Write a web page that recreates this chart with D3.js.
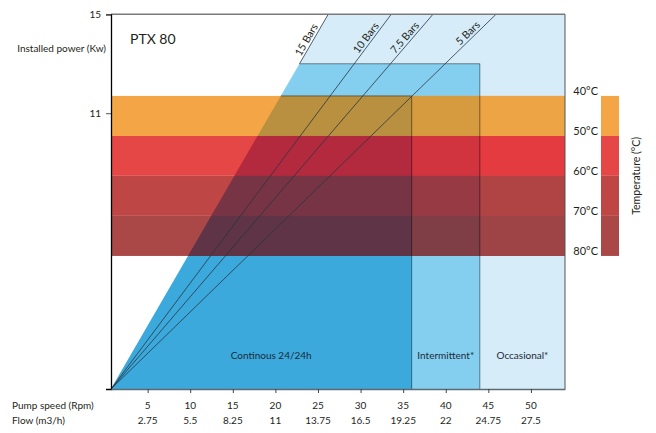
<!DOCTYPE html>
<html>
<head>
<meta charset="utf-8">
<script src="https://cdn.jsdelivr.net/npm/d3@7"></script>
<style>
  body { margin: 0; background: #fff; }
  text { font-family: Lato, "Open Sans", sans-serif; fill: #231f20; }
</style>
</head>
<body>
<div id="chart"></div>
<script>
// ---- data ----
const rpmTicks = [5, 10, 15, 20, 25, 30, 35, 40, 45, 50]
const flowTicks = [2.75, 5.5, 8.25, 11, 13.75, 16.5, 19.25, 22, 24.75, 27.5]
const powerTicks = [11, 15]

const pressureLabels = ["15 Bars", "10 Bars", "7.5 Bars", "5 Bars"]
const pressureRpmAt15 = [26.2, 33.6, 38.5, 45.9]   // rpm where each line hits 15 kW

const zoneNames = ["Continous 24/24h", "Intermittent*", "Occasional*"]
const zoneMaxRpm = [36, 44, 54]
const zoneMaxKw = [11.7, 13, 15]

const tempLabels = ["40°C", "50°C", "60°C", "70°C", "80°C"]
const tempKw = [11.7, 10.08, 8.47, 6.85, 5.23]

// ---- look ----
const W = 656, H = 433
const zoneFill = ["#3ba9dc", "#84cff0", "#d6ecf8"]
// band colours: over white, then as seen over each zone (continuous, intermittent, occasional)
const bandWhite = ["#f4a646", "#e54646", "#be4645", "#aa4747"]
const bandOnZone = [
  ["#b99040", "#b32a3f", "#773444", "#5e3446"],
  ["#d69a3f", "#d1343e", "#973a44", "#7f3e46"],
  ["#eda445", "#e33b40", "#b04344", "#9f4446"]
]

const x = d3.scaleLinear().domain([0.7, 54]).range([111, 565])
const y = d3.scaleLinear().domain([-0.15, 15]).range([389, 14.3])
const x0 = x.domain()[0], y0 = y.domain()[0]

const svg = d3.select("#chart").append("svg")
  .attr("width", W).attr("height", H)

// point on a pressure line at a given power
const lineRpmAt = (rpmTop, kw) => x0 + (rpmTop - x0) * (kw - y0) / (15 - y0)

const zonePoly = (i) => {
  const xl = lineRpmAt(pressureRpmAt15[0], zoneMaxKw[i])
  return [[x0, y0], [xl, zoneMaxKw[i]], [zoneMaxRpm[i], zoneMaxKw[i]], [zoneMaxRpm[i], y0]]
}
const toPath = d3.line().x(d => x(d[0])).y(d => y(d[1]))

const defs = svg.append("defs")
zoneNames.forEach((z, i) => {
  defs.append("clipPath").attr("id", "zone" + i)
    .append("path").attr("d", toPath(zonePoly(i)) + "Z")
})

// zones, widest first
const zoneOrder = [2, 1, 0]
svg.append("g").selectAll("path")
  .data(zoneOrder).enter().append("path")
  .attr("d", i => toPath(zonePoly(i)) + "Z")
  .attr("fill", i => zoneFill[i])

// temperature bands
const bands = tempLabels.slice(0, -1).map((t, i) => ({ top: tempKw[i], bottom: tempKw[i + 1], i: i }))

const drawBands = (g, colors) => {
  g.selectAll("rect").data(bands).enter().append("rect")
    .attr("x", x(x0))
    .attr("width", x(x.domain()[1]) - x(x0))
    .attr("y", d => y(d.top))
    .attr("height", d => y(d.bottom) - y(d.top))
    .attr("fill", d => colors[d.i])
}
drawBands(svg.append("g"), bandWhite)
zoneOrder.forEach(i => {
  drawBands(svg.append("g").attr("clip-path", "url(#zone" + i + ")"), bandOnZone[i])
})

// zone outlines (top + right edge)
svg.append("g").selectAll("path")
  .data([1, 0]).enter().append("path")
  .attr("d", i => toPath(zonePoly(i).slice(1)))
  .attr("fill", "none")
  .attr("stroke", "#000")
  .attr("stroke-opacity", 0.45)
  .attr("stroke-width", 1)

// pressure lines
pressureLabels.forEach((lbl, i) => {
  const fromKw = i === 0 ? zoneMaxKw[1] : y0
  const p1 = [x(lineRpmAt(pressureRpmAt15[i], fromKw)), y(fromKw)]
  const p2 = [x(pressureRpmAt15[i]), y(15)]
  svg.append("line")
    .attr("x1", p1[0]).attr("y1", p1[1]).attr("x2", p2[0]).attr("y2", p2[1])
    .attr("stroke", "#2a3540").attr("stroke-width", 0.8)

  const ang = Math.atan2(y(y0) - y(15), x(pressureRpmAt15[i]) - x(x0)) * 180 / Math.PI
  const kwAt = 14.5
  svg.append("text")
    .attr("transform", "translate(" + x(lineRpmAt(pressureRpmAt15[i], kwAt)) + "," + y(kwAt) + ") rotate(" + (-ang) + ")")
    .attr("text-anchor", "end")
    .attr("dx", -1).attr("dy", -2.5)
    .style("font-size", "10.5px")
    .text(lbl)
})

// zone labels
const labelKw = y.invert(355)
const zoneLeft = [lineRpmAt(pressureRpmAt15[0], labelKw), zoneMaxRpm[0], zoneMaxRpm[1]]
svg.append("g").selectAll("text")
  .data(zoneNames).enter().append("text")
  .attr("x", (d, i) => x((zoneLeft[i] + zoneMaxRpm[i]) / 2))
  .attr("y", 355)
  .attr("dy", "0.35em")
  .attr("text-anchor", "middle")
  .style("font-size", "10px")
  .style("fill", "#1c2a38")
  .text(d => d)

// frame
svg.append("line").attr("x1", x(x0)).attr("x2", x(x.domain()[1]))
  .attr("y1", y(15)).attr("y2", y(15))
  .attr("stroke", "#7a7a7a").attr("stroke-width", 1.5)
svg.append("line").attr("x1", x(x.domain()[1])).attr("x2", x(x.domain()[1]))
  .attr("y1", y(15)).attr("y2", y(y0))
  .attr("stroke", "#555").attr("stroke-width", 1)

// y axis
const yAxis = svg.append("g")
  .attr("transform", "translate(" + x(x0) + ",0)")
  .call(d3.axisLeft(y).tickValues(powerTicks).tickSize(5).tickPadding(5))
yAxis.select(".domain").attr("stroke", "#000").attr("stroke-width", 1.3)
yAxis.selectAll(".tick line").attr("stroke", "#555")
yAxis.selectAll("text").style("font-size", "10px").attr("fill", "#231f20")

// x axis with two label rows
const xAxis = svg.append("g")
  .attr("transform", "translate(0," + y(y0) + ")")
  .call(d3.axisBottom(x).tickValues(rpmTicks).tickSize(4).tickSizeOuter(0).tickFormat(""))
xAxis.select(".domain").attr("stroke", "#5f6b73").attr("stroke-width", 1.3)
xAxis.selectAll(".tick line").attr("stroke", "#444")

svg.append("g").selectAll("text")
  .data(rpmTicks).enter().append("text")
  .attr("x", d => x(d)).attr("y", 405).attr("dy", "0.35em")
  .attr("text-anchor", "middle").style("font-size", "10px")
  .text(d => d)
svg.append("g").selectAll("text")
  .data(flowTicks).enter().append("text")
  .attr("x", (d, i) => x(rpmTicks[i])).attr("y", 420).attr("dy", "0.35em")
  .attr("text-anchor", "middle").style("font-size", "10px")
  .text(d => d)

svg.append("text").attr("x", 12).attr("y", 405).attr("dy", "0.35em")
  .style("font-size", "10px").text("Pump speed (Rpm)")
svg.append("text").attr("x", 12).attr("y", 420).attr("dy", "0.35em")
  .style("font-size", "10px").text("Flow (m3/h)")

svg.append("text").attr("x", 106).attr("y", 48).attr("dy", "0.35em")
  .attr("text-anchor", "end").style("font-size", "10px").text("Installed power (Kw)")
svg.append("text").attr("x", 130).attr("y", 44)
  .style("font-size", "14px").text("PTX 80")

// temperature legend
svg.append("g").selectAll("rect")
  .data(bands).enter().append("rect")
  .attr("x", 601).attr("width", 18)
  .attr("y", d => y(d.top))
  .attr("height", d => y(d.bottom) - y(d.top))
  .attr("fill", d => bandWhite[d.i])
svg.append("g").selectAll("text")
  .data(tempLabels).enter().append("text")
  .attr("x", 598).attr("y", (d, i) => y(tempKw[i]))
  .attr("dy", -0.5)
  .attr("text-anchor", "end").style("font-size", "11px")
  .text(d => d)
svg.append("text")
  .attr("transform", "translate(640," + y((tempKw[0] + tempKw[4]) / 2) + ") rotate(-90)")
  .attr("text-anchor", "middle")
  .style("font-size", "10.5px")
  .text("Temperature (°C)")
</script>
</body>
</html>
